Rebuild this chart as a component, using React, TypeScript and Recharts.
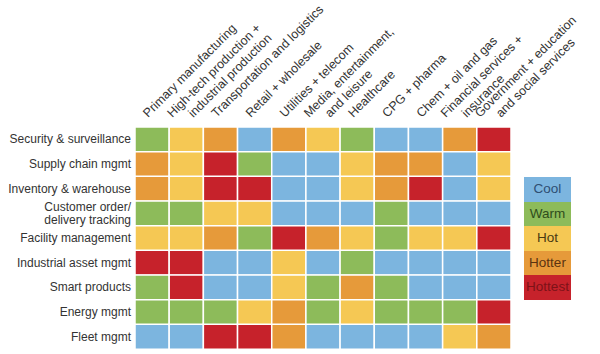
import { BarChart, Bar, Cell, XAxis, YAxis, Legend } from "recharts";

const rows = [
  "Security & surveillance",
  "Supply chain mgmt",
  "Inventory & warehouse",
  "Customer order/\ndelivery tracking",
  "Facility management",
  "Industrial asset mgmt",
  "Smart products",
  "Energy mgmt",
  "Fleet mgmt",
];

const columns = [
  "Primary manufacturing",
  "High-tech production +\nindustrial production",
  "Transportation and logistics",
  "Retail + wholesale",
  "Utilities + telecom",
  "Media, entertainment,\nand leisure",
  "Healthcare",
  "CPG + pharma",
  "Chem + oil and gas",
  "Financial services +\ninsurance",
  "Government + education\nand social services",
];

const levels = ["Cool", "Warm", "Hot", "Hotter", "Hottest"];

// 0 cool, 1 warm, 2 hot, 3 hotter, 4 hottest
const heat = [
  [1, 2, 3, 0, 3, 2, 1, 0, 0, 3, 4],
  [3, 2, 4, 1, 0, 0, 2, 3, 3, 0, 2],
  [3, 2, 4, 4, 0, 0, 2, 3, 4, 0, 2],
  [1, 1, 2, 2, 0, 0, 0, 1, 0, 0, 0],
  [2, 2, 3, 1, 4, 3, 2, 1, 2, 2, 4],
  [4, 4, 0, 0, 2, 0, 1, 0, 0, 0, 0],
  [1, 4, 0, 0, 2, 1, 3, 1, 0, 0, 0],
  [1, 1, 1, 2, 3, 1, 2, 1, 1, 1, 4],
  [0, 0, 4, 4, 3, 0, 0, 0, 0, 2, 3],
];

const fills = ["#7cb5df", "#8dbb5a", "#f5c854", "#e69a3a", "#c6222b"];
const inks = ["#2e4f73", "#2f4d1c", "#4a3a12", "#5a3310", "#7d1218"];

const table = rows.map((name) => {
  const row: Record<string, any> = { name };
  columns.forEach((_, j) => (row["c" + j] = 1));
  return row;
});

const FONT = "'Liberation Sans', Arial, sans-serif";

function RowTick({ x, y, payload }: any) {
  const lines = String(payload.value).split("\n");
  const tx = x + 4;
  return (
    <text x={tx} y={y} textAnchor="end" fontSize={12} fill="#333" fontFamily={FONT}>
      {lines.map((l, k) => (
        <tspan key={k} x={tx} dy={k === 0 ? (lines.length > 1 ? -2 : 4) : 12.5}>
          {l}
        </tspan>
      ))}
    </text>
  );
}

function ColTick({ x, y, index }: any) {
  const lines = columns[index].split("\n");
  const shifts = lines.length > 1 ? [-14, 7] : [-4];
  return (
    <g>
      {lines.map((l, k) => (
        <text
          key={k}
          x={x + shifts[k]}
          y={y - 1}
          transform={`rotate(-45 ${x + shifts[k]} ${y - 1})`}
          fontSize={12.5}
          fill="#333"
          fontFamily={FONT}
        >
          {l}
        </text>
      ))}
    </g>
  );
}

function HeatLegend() {
  return (
    <div style={{ width: 47, fontFamily: FONT, fontSize: 13.5 }}>
      {levels.map((lv, i) => (
        <div
          key={lv}
          style={{
            height: 24.6,
            lineHeight: "24.6px",
            background: fills[i],
            color: inks[i],
            textAlign: "center",
          }}
        >
          {lv}
        </div>
      ))}
    </div>
  );
}

export default function App() {
  return (
    <div style={{ position: "absolute", left: 0, top: 0, background: "#fff" }}>
      <BarChart
        width={600}
        height={354}
        data={table}
        layout="vertical"
        barCategoryGap={0}
        margin={{ top: 97, right: 89, bottom: 5, left: 5 }}
      >
        <XAxis
          type="number"
          orientation="top"
          domain={[0, columns.length]}
          ticks={columns.map((_, j) => j + 0.5)}
          axisLine={false}
          tickLine={false}
          height={30}
          interval={0}
          tick={<ColTick />}
        />
        <YAxis
          type="category"
          dataKey="name"
          width={130}
          axisLine={false}
          tickLine={false}
          interval={0}
          tick={<RowTick />}
        />
        <Legend
          layout="horizontal"
          verticalAlign="middle"
          content={<HeatLegend />}
          wrapperStyle={{ left: 524, top: 177, width: 47 }}
        />
        {columns.map((_, j) => (
          <Bar
            key={j}
            dataKey={"c" + j}
            stackId="grid"
            stroke="#fff"
            strokeWidth={1.5}
            isAnimationActive={false}
          >
            {rows.map((_, i) => (
              <Cell key={i} fill={fills[heat[i][j]]} />
            ))}
          </Bar>
        ))}
      </BarChart>
    </div>
  );
}
